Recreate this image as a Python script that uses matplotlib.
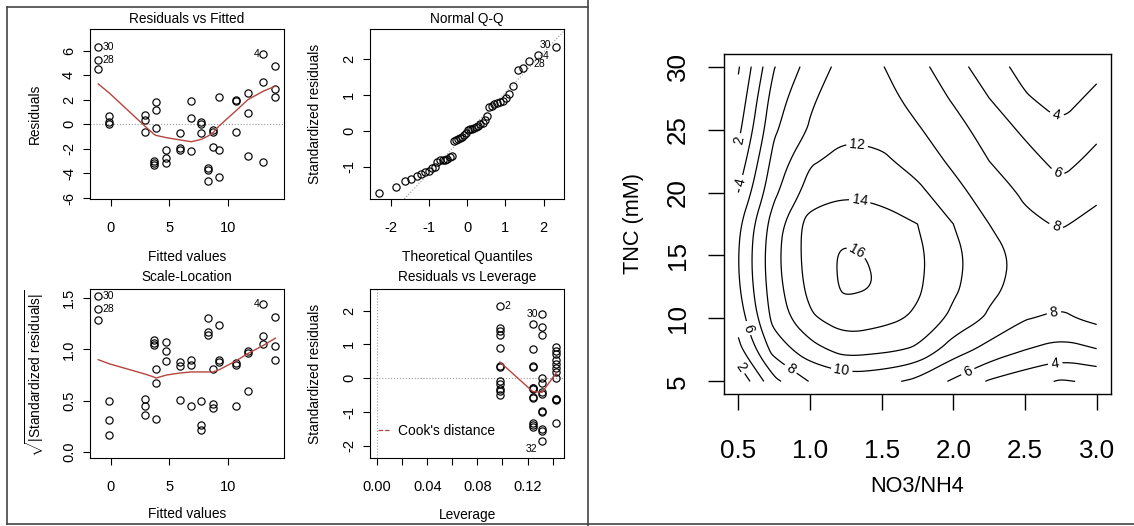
"""
Regression diagnostics (2x2) next to the response-surface contour
of TNC against the NO3/NH4 ratio.
"""
import matplotlib
matplotlib.use('Agg')
import matplotlib.pyplot as plt
import numpy as np
from matplotlib.lines import Line2D
from matplotlib.path import Path
from matplotlib.contour import ContourSet

plt.rcParams['font.family'] = ['Liberation Sans', 'DejaVu Sans']
plt.rcParams['mathtext.fontset'] = 'custom'
plt.rcParams['mathtext.rm'] = 'Liberation Sans'
plt.rcParams['axes.unicode_minus'] = False

# ---- lm diagnostics (16 treatments x 3 replicates) ----
fitted = [-1.05, -1.05, -1.05, -0.12, -0.12, -0.12, 2.91, 2.91, 2.91,
          3.84, 3.84, 3.84, 3.70, 3.70, 3.70, 4.74, 4.74, 4.74,
          5.93, 5.93, 5.93, 6.86, 6.86, 6.86, 7.71, 7.71, 7.71,
          8.70, 8.70, 8.70, 8.27, 8.27, 8.27, 9.20, 9.20, 9.20,
          10.68, 10.68, 10.68, 11.66, 11.66, 11.66, 12.99, 12.99, 12.99,
          14.00, 14.00, 14.00]
resid = [6.32, 5.24, 4.51, 0.66, 0.20, 0.05, 0.74, 0.31, -0.61,
         1.79, 1.14, -0.31, -2.98, -3.18, -3.30, -2.12, -2.71, -3.17,
         -0.74, -1.96, -2.12, 1.93, 0.52, -2.20, 0.17, 0.06, -0.74,
         -0.50, -0.61, -1.85, -3.58, -3.74, -4.65, 2.22, -2.12, -4.25,
         1.96, 1.90, -0.61, 2.55, 0.93, -2.58, 5.70, 3.44, -3.04,
         4.70, 2.87, 2.19]
sqrt_std_resid = [1.52, 1.39, 1.29, 0.50, 0.31, 0.16, 0.52, 0.45, 0.36,
                  0.81, 0.67, 0.32, 1.09, 1.06, 1.04, 1.07, 0.98, 0.89,
                  0.88, 0.84, 0.51, 0.90, 0.85, 0.45, 0.50, 0.26, 0.21,
                  0.81, 0.47, 0.43, 1.31, 1.17, 1.14, 1.24, 0.90, 0.88,
                  0.87, 0.85, 0.45, 0.98, 0.97, 0.59, 1.44, 1.13, 1.05,
                  1.32, 1.03, 0.90]
id_index = [0, 1, 42]
id_labels = ['30', '28', '4']

# smoother lines
smooth_x = [-1.05, -0.12, 2.91, 3.70, 3.84, 4.74, 5.93, 6.86, 7.71, 8.27,
            8.70, 9.20, 10.68, 11.66, 12.99, 14.00]
resid_smooth = [3.28, 2.55, -0.15, -0.82, -0.90, -1.09, -1.28, -1.42, -1.23,
                -0.96, -0.69, -0.15, 1.12, 2.00, 2.70, 3.10]
scale_smooth = [0.90, 0.86, 0.76, 0.73, 0.72, 0.75, 0.77, 0.78, 0.78, 0.78,
                0.78, 0.80, 0.89, 0.96, 1.04, 1.11]

# normal Q-Q
theo_q = [-2.312, -1.863, -1.625, -1.455, -1.318, -1.202, -1.101, -1.010,
          -0.927, -0.849, -0.776, -0.708, -0.642, -0.579, -0.519, -0.460,
          -0.402, -0.346, -0.291, -0.237, -0.184, -0.131, -0.078, -0.026,
          0.026, 0.078, 0.131, 0.184, 0.237, 0.291, 0.346, 0.402,
          0.460, 0.519, 0.579, 0.642, 0.708, 0.776, 0.849, 0.927,
          1.010, 1.101, 1.202, 1.318, 1.455, 1.625, 1.863, 2.312]
std_sorted = [-1.73, -1.56, -1.39, -1.33, -1.24, -1.19, -1.15, -1.11,
              -1.04, -0.99, -0.87, -0.82, -0.81, -0.80, -0.77, -0.73,
              -0.69, -0.28, -0.25, -0.23, -0.20, -0.17, -0.10, -0.05,
              0.02, 0.04, 0.06, 0.08, 0.11, 0.14, 0.19, 0.23,
              0.29, 0.42, 0.67, 0.70, 0.74, 0.77, 0.80, 0.84,
              0.92, 1.03, 1.26, 1.68, 1.74, 1.93, 2.11, 2.32]
qq_line = (-0.055, 1.117)  # intercept, slope
qq_index = [47, 46, 45]
qq_labels = ['30', '4', '28']

# residuals vs leverage
leverage = [0.098] * 12 + [0.124] * 12 + [0.1315] * 12 + [0.143] * 12
lev_resid = [2.15, 1.50, 1.40, 1.28, 0.89, 0.37, 0.34, -0.08, -0.18, -0.32, -0.38, -0.49,
             1.61, 0.86, 0.36, 0.33, -0.28, -0.30, -0.32, -0.56, -0.59, -1.33, -1.38, -1.43,
             1.89, 1.53, 1.28, 0.00, -0.15, -0.41, -0.46, -0.97, -1.00, -1.50, -1.55, -1.85,
             0.91, 0.82, 0.72, 0.54, 0.41, 0.31, 0.18, 0.02, -0.61, -0.62, -0.64, -1.31]
lev_smooth_x = [0.098, 0.124, 0.1315, 0.143]
lev_smooth_y = [0.48, -0.39, -0.42, 0.16]

# ---- response surface (value grid) ----
no3_nh4 = [0.5, 0.75, 1.0, 1.25, 1.5, 1.75, 2.0, 2.25, 2.5, 2.75, 3.0]
tnc = [5, 7.5, 10, 12.5, 15, 17.5, 20, 22.5, 25, 27.5, 30]
surface = [
    [0.3, 5.5, 8.1, 8.9, 8.6, 7.5, 5.7, 3.8, 2.8, 1.8, 2.3],
    [3.4, 8.8, 11.2, 12.8, 12.4, 11.7, 8.9, 7.3, 6.0, 5.2, 5.9],
    [4.9, 10.7, 13.7, 15.1, 14.6, 13.7, 11.5, 9.7, 8.1, 7.6, 8.5],
    [5.8, 11.2, 14.6, 16.4, 15.9, 14.3, 12.4, 10.5, 9.3, 9.0, 9.0],
    [6.0, 11.4, 14.9, 16.4, 15.7, 14.4, 12.6, 10.6, 9.5, 9.1, 9.1],
    [5.6, 11.0, 14.9, 15.1, 14.9, 14.0, 12.0, 10.0, 8.4, 7.8, 8.6],
    [4.0, 9.6, 12.9, 13.8, 13.4, 12.5, 10.7, 9.0, 7.7, 6.6, 7.6],
    [2.7, 8.7, 11.8, 12.5, 12.4, 11.2, 9.6, 8.0, 6.8, 5.3, 6.6],
    [1.5, 7.7, 10.2, 11.7, 11.3, 10.2, 8.7, 7.2, 5.6, 4.3, 5.5],
    [0.6, 7.0, 9.7, 11.2, 10.8, 9.2, 7.8, 6.0, 4.2, 3.2, 4.5],
    [-0.2, 5.9, 8.8, 10.8, 10.1, 8.6, 6.8, 4.9, 3.3, 2.7, 3.4],
]
levels = [0, 2, 4, 6, 8, 10, 12, 14, 16]
label_spots = [(0.52, 24.1), (0.53, 20.8), (1.33, 23.9), (1.35, 19.6),
               (1.33, 15.4), (2.71, 25.6), (2.71, 21.2), (2.71, 17.1),
               (2.70, 10.6), (2.10, 5.8), (2.71, 6.5), (1.22, 5.8),
               (0.86, 5.9), (0.56, 9.2), (0.54, 6.3)]

W, H = 1134, 526
fig = plt.figure(figsize=(W / 100, H / 100), dpi=100)
red = '#B5453F'
tick_fs = 10.5
lab_fs = 9.9


def rect(l, t, r, b):
    return [l / W, 1 - b / H, (r - l) / W, (b - t) / H]


def ftext(x, y, s, **kw):
    fig.text(x / W, 1 - y / H, s, ha='center', va='center', **kw)


def r_style(ax, size, tick_len, xpad, ypad, lw=0.8):
    ax.tick_params(direction='out', length=tick_len, width=lw, labelsize=size, colors='black')
    ax.tick_params(axis='x', pad=xpad)
    ax.tick_params(axis='y', pad=ypad, labelrotation=90)
    for lab in ax.get_yticklabels():
        lab.set_va('center')
    for sp in ax.spines.values():
        sp.set_linewidth(lw)


def points(ax, x, y):
    ax.plot(x, y, 'o', ms=5.2, mfc='none', mec='black', mew=0.85, ls='none')


def id_text(ax, x, y, lab, dx, dy=0):
    ax.annotate(lab, (x, y), xytext=(dx, dy), textcoords='offset points',
                ha='left' if dx > 0 else 'right', va='center', fontsize=7.5)


def smooth_path(v, rounds=3):
    # corner cutting, only to soften the drawn contour polylines
    closed = np.allclose(v[0], v[-1])
    for _ in range(rounds):
        p, q = v[:-1], v[1:]
        cut = np.empty((2 * len(p), 2))
        cut[0::2] = 0.75 * p + 0.25 * q
        cut[1::2] = 0.25 * p + 0.75 * q
        v = np.vstack([cut, cut[:1]]) if closed else np.vstack([v[:1], cut, v[-1:]])
    return v


# Residuals vs Fitted
ax1 = fig.add_axes(rect(90, 29, 283.5, 199))
ax1.axhline(0, color='#999999', ls=':', lw=0.8)
points(ax1, fitted, resid)
ax1.plot(smooth_x, resid_smooth, color=red, lw=1)
for i, lab in zip(id_index, id_labels):
    id_text(ax1, fitted[i], resid[i], lab, 3 if fitted[i] < 5 else -3)
ax1.set_xlim(-1.75, 14.69)
ax1.set_ylim(-6.08, 7.75)
ax1.set_xticks([0, 5, 10])
ax1.set_yticks([-6, -4, -2, 0, 2, 4, 6])
r_style(ax1, tick_fs, 5, 10.5, 5)

# Normal Q-Q
ax2 = fig.add_axes(rect(370, 29, 563.5, 199))
ax2.axline((0, qq_line[0]), slope=qq_line[1], color='#999999', ls=':', lw=0.8)
points(ax2, theo_q, std_sorted)
for i, lab, dx, dy in zip(qq_index, qq_labels, [-3, 3, 3], [2, -1, -2]):
    id_text(ax2, theo_q[i], std_sorted[i], lab, dx, dy)
ax2.set_xlim(-2.54, 2.52)
ax2.set_ylim(-1.89, 2.83)
ax2.set_xticks([-2, -1, 0, 1, 2])
ax2.set_yticks([-1, 0, 1, 2])
r_style(ax2, tick_fs, 5, 10.5, 5)

# Scale-Location
ax3 = fig.add_axes(rect(90, 289, 283.5, 458))
points(ax3, fitted, sqrt_std_resid)
ax3.plot(smooth_x, scale_smooth, color=red, lw=1)
for i, lab in zip(id_index, id_labels):
    id_text(ax3, fitted[i], sqrt_std_resid[i], lab, 3 if fitted[i] < 5 else -3)
ax3.set_xlim(-1.75, 14.69)
ax3.set_ylim(-0.06, 1.59)
ax3.set_xticks([0, 5, 10])
ax3.set_yticks([0.0, 0.5, 1.0, 1.5])
ax3.set_yticklabels(['0.0', '0.5', '1.0', '1.5'])
r_style(ax3, tick_fs, 5, 10.5, 5)

# Residuals vs Leverage
ax4 = fig.add_axes(rect(370, 289, 563.5, 458))
ax4.axhline(0, color='#999999', ls=':', lw=0.8)
ax4.axvline(0, color='#999999', ls=':', lw=0.8)
points(ax4, leverage, lev_resid)
ax4.plot(lev_smooth_x, lev_smooth_y, color=red, lw=1)
id_text(ax4, leverage[0], lev_resid[0], '2', 3)
id_text(ax4, leverage[24], lev_resid[24], '30', -3)
id_text(ax4, leverage[35], lev_resid[35], '32', -3, -6)
ax4.set_xlim(-0.0057, 0.1487)
ax4.set_ylim(-2.36, 2.64)
ax4.set_xticks([0.0, 0.02, 0.04, 0.06, 0.08, 0.10, 0.12, 0.14])
ax4.set_xticklabels(['0.00', '', '0.04', '', '0.08', '', '0.12', ''])
ax4.set_yticks([-2, -1, 0, 1, 2])
r_style(ax4, tick_fs, 5, 10.5, 5)
ax4.legend([Line2D([], [], color=red, ls='--', lw=0.9)], ["Cook's distance"],
           loc='lower left', bbox_to_anchor=(0.0, 0.07), frameon=False,
           fontsize=lab_fs, handlelength=0.8, handletextpad=0.6, borderaxespad=0.2)

for (cx, ty, by), ttl, xl, yl in [
        ((187, 19, 257), 'Residuals vs Fitted', 'Fitted values', (35, 114, 'Residuals')),
        ((467, 19, 257), 'Normal Q-Q', 'Theoretical Quantiles', (315, 114, 'Standardized residuals')),
        ((187, 277, 514), 'Scale-Location', 'Fitted values',
         (35, 373.5, r'$\sqrt{|\mathrm{Standardized\ residuals}|}$')),
        ((467, 277, 515), 'Residuals vs Leverage', 'Leverage', (315, 373.5, 'Standardized residuals'))]:
    ftext(cx, ty, ttl, fontsize=9.8)
    ftext(cx, by, xl, fontsize=lab_fs)
    ftext(yl[0], yl[1], yl[2], fontsize=lab_fs, rotation=90)

# Contour map
ax5 = fig.add_axes(rect(724, 54, 1111, 394))
raw = ax5.contour(no3_nh4, tnc, np.array(surface), levels=levels)
segs = []
for path in raw.get_paths():
    pieces = []
    if len(path.vertices):
        codes = path.codes
        starts = list(np.flatnonzero(codes == Path.MOVETO)) + [len(codes)]
        for s, e in zip(starts[:-1], starts[1:]):
            v = path.vertices[s:e].copy()
            if codes[e - 1] == Path.CLOSEPOLY:
                v[-1] = v[0]
            pieces.append(smooth_path(v))
    segs.append(pieces)
raw.remove()
cs = ContourSet(ax5, levels, segs, colors='black', linewidths=0.9)
ax5.clabel(cs, fmt='%d', fontsize=10, inline=True, inline_spacing=4, manual=label_spots)
ax5.set_xlim(0.4, 3.1)
ax5.set_ylim(4, 31)
ax5.set_xticks([0.5, 1.0, 1.5, 2.0, 2.5, 3.0])
ax5.set_xticklabels(['0.5', '1.0', '1.5', '2.0', '2.5', '3.0'])
ax5.set_yticks([5, 10, 15, 20, 25, 30])
r_style(ax5, 18.7, 11.5, 21, 13, lw=1.0)
ftext(633, 224, 'TNC (mM)', fontsize=15.6, rotation=90)
ftext(917, 487, 'NO3/NH4', fontsize=15.6)

# frame lines around the two pictures
for (x0, y0, x1, y1) in [(7, 7, 7, 524), (7, 7, 588, 7), (588, 0, 588, 526), (7, 524, 1134, 524)]:
    fig.add_artist(Line2D([x0 / W, x1 / W], [1 - y0 / H, 1 - y1 / H], color='#444444', lw=1.2))

fig.savefig('out.png', dpi=100)
